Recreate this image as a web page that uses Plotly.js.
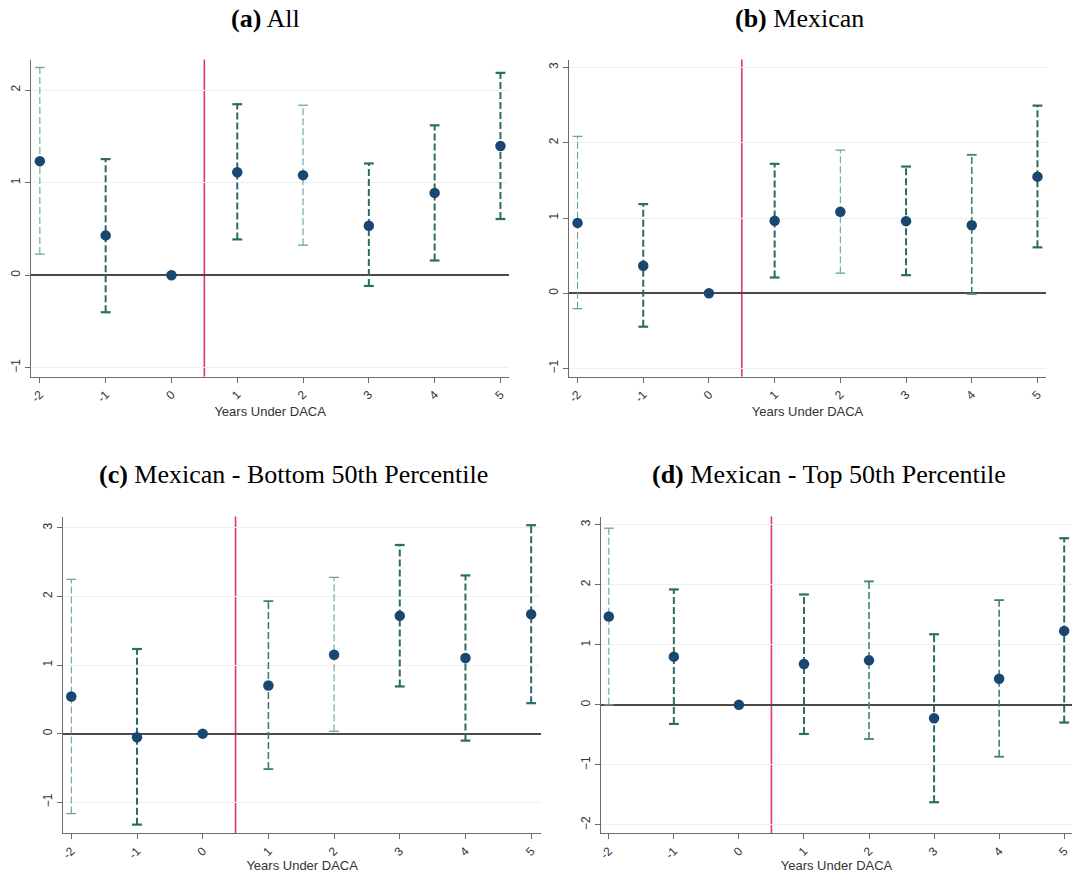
<!DOCTYPE html>
<html>
<head>
<meta charset="utf-8">
<script src="https://cdn.plot.ly/plotly-3.0.1.min.js"></script>
<style>
  html, body { margin: 0; padding: 0; background: #fff; }
  #chart { width: 1072px; height: 873px; }
</style>
</head>
<body>
<div id="chart"></div>
<script>
// ---- Data ----
const years = [-2, -1, 0, 1, 2, 3, 4, 5];
const xAxisTitle = "Years Under DACA";

const panelTitles = ["(a)", "(b)", "(c)", "(d)"];
const panelNames = ["All", "Mexican", "Mexican - Bottom 50th Percentile", "Mexican - Top 50th Percentile"];

// Panel (a) All
const allCoef = [1.232, 0.430, 0, 1.113, 1.081, 0.535, 0.889, 1.395];
const allLow  = [0.228, -0.400, null, 0.387, 0.325, -0.116, 0.159, 0.607];
const allHigh = [2.244, 1.254, null, 1.847, 1.836, 1.207, 1.619, 2.186];

// Panel (b) Mexican
const mexCoef = [0.935, 0.365, 0, 0.962, 1.082, 0.958, 0.904, 1.550];
const mexLow  = [-0.205, -0.445, null, 0.209, 0.267, 0.240, -0.009, 0.610];
const mexHigh = [2.085, 1.185, null, 1.720, 1.902, 1.684, 1.840, 2.494];

// Panel (c) Mexican - Bottom 50th Percentile
const botCoef = [0.541, -0.054, 0, 0.702, 1.151, 1.717, 1.102, 1.741];
const botLow  = [-1.166, -1.327, null, -0.517, 0.034, 0.688, -0.102, 0.444];
const botHigh = [2.249, 1.234, null, 1.932, 2.278, 2.751, 2.307, 3.039];

// Panel (d) Mexican - Top 50th Percentile
const topCoef = [1.472, 0.803, 0, 0.680, 0.741, -0.223, 0.435, 1.232];
const topLow  = [0.000, -0.318, null, -0.485, -0.569, -1.622, -0.864, -0.295];
const topHigh = [2.943, 1.923, null, 1.839, 2.057, 1.176, 1.745, 2.776];

// ---- Styling (separate from data) ----
const ciLook = {
  thin:   { width: 1.1, color: "#6aa39e" },
  medium: { width: 1.6, color: "#3f7f7a" },
  thick:  { width: 2.0, color: "#2b6b66" }
};
const ciWeights = [
  ["thin", "thick", null, "thick", "thin", "thick", "thick", "thick"],
  ["thin", "thick", null, "thick", "thin", "thick", "medium", "thick"],
  ["thin", "thick", null, "medium", "thin", "thick", "thick", "thick"],
  ["thin", "thick", null, "thick", "medium", "thick", "medium", "thick"]
];

const panels = [
  { coef: allCoef, low: allLow, high: allHigh, yr: [-1.094, 2.33],  xr: [-2.13, 5.13],
    xd: [31.3, 509], yd: [59.5, 376.5], tx: 265, ty: 18 },
  { coef: mexCoef, low: mexLow, high: mexHigh, yr: [-1.107, 3.107], xr: [-2.13, 5.13],
    xd: [569, 1046], yd: [59.5, 376.5], tx: 799, ty: 18 },
  { coef: botCoef, low: botLow, high: botHigh, yr: [-1.449, 3.166], xr: [-2.122, 5.15],
    xd: [63.3, 541], yd: [516.5, 833], tx: 293, ty: 475 },
  { coef: topCoef, low: topLow, high: topHigh, yr: [-2.135, 3.138], xr: [-2.12, 5.12],
    xd: [601, 1072], yd: [516.5, 833], tx: 829, ty: 475 }
];

const W = 1072, H = 873;
const traces = [];
const layout = {
  width: W, height: H,
  margin: { l: 0, r: 0, t: 0, b: 0 },
  paper_bgcolor: "#ffffff",
  plot_bgcolor: "#ffffff",
  showlegend: false,
  annotations: [],
  shapes: []
};

const tickFont = { family: "Liberation Sans, Arial, sans-serif", size: 12, color: "#333333" };

panels.forEach((p, k) => {
  const sfx = k === 0 ? "" : String(k + 1);
  const xa = "x" + sfx, ya = "y" + sfx;

  // confidence intervals: dashed line with caps
  years.forEach((yv, i) => {
    if (p.low[i] === null) return;
    const look = ciLook[ciWeights[k][i]];
    traces.push({
      type: "scatter", mode: "lines+markers",
      x: [yv, yv], y: [p.low[i], p.high[i]],
      xaxis: xa, yaxis: ya, cliponaxis: false,
      line: { color: look.color, width: look.width, dash: "7px,3px" },
      marker: { symbol: "line-ew", size: 7, line: { color: look.color, width: look.width + 0.2 } },
      hoverinfo: "skip"
    });
  });

  // point estimates
  traces.push({
    type: "scatter", mode: "markers",
    x: years, y: p.coef,
    xaxis: xa, yaxis: ya,
    marker: { color: "#1a476f", size: 10.5, symbol: "circle" },
    hoverinfo: "x+y"
  });

  const xdom = [p.xd[0] / W, p.xd[1] / W];
  const ydom = [1 - p.yd[1] / H, 1 - p.yd[0] / H];

  layout["xaxis" + sfx] = {
    domain: xdom, anchor: ya, range: p.xr,
    tickmode: "array", tickvals: years, ticktext: years.map(String),
    tickangle: -45, tickfont: tickFont, ticklabeloverflow: "allow",
    ticks: "outside", ticklen: 5, tickcolor: "#6b6b6b", tickwidth: 1,
    showline: true, linecolor: "#6b6b6b", linewidth: 1.3, mirror: false,
    showgrid: false, zeroline: false,
    title: { text: xAxisTitle, font: { family: "Liberation Sans, Arial, sans-serif", size: 13, color: "#333333" }, standoff: 2 }
  };
  layout["yaxis" + sfx] = {
    domain: ydom, anchor: xa, range: p.yr,
    dtick: 1, tick0: 0,
    tickangle: -90, tickfont: tickFont,
    ticks: "outside", ticklen: 5, tickcolor: "#6b6b6b", tickwidth: 1,
    showline: true, linecolor: "#6b6b6b", linewidth: 1.3, mirror: false,
    showgrid: true, gridcolor: "#e9f1f2", gridwidth: 1,
    zeroline: true, zerolinecolor: "#4a4a4a", zerolinewidth: 2
  };

  // treatment line between 0 and 1
  layout.shapes.push({
    type: "line", xref: xa, yref: ya + " domain",
    x0: 0.5, x1: 0.5, y0: 0, y1: 1,
    line: { color: "#dc3a62", width: 1.6 }, layer: "below"
  });

  // panel title
  layout.annotations.push({
    xref: "paper", yref: "paper",
    x: p.tx / W, y: 1 - p.ty / H, xanchor: "center", yanchor: "middle",
    text: "<b>" + panelTitles[k] + "</b> " + panelNames[k],
    showarrow: false,
    font: { family: "Liberation Serif, Times New Roman, serif", size: 26, color: "#000000" }
  });
});

Plotly.newPlot("chart", traces, layout, { displayModeBar: false, staticPlot: true });
</script>
</body>
</html>
